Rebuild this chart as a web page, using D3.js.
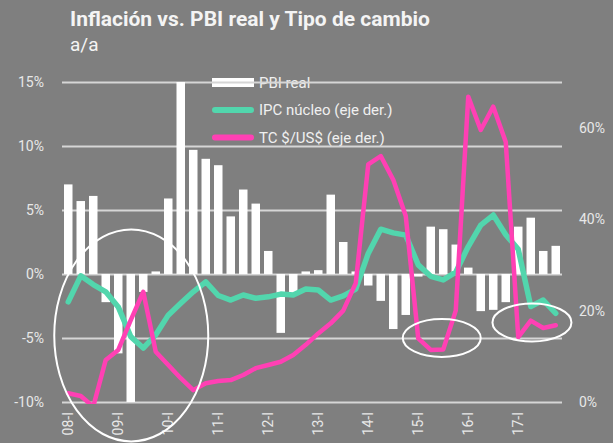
<!DOCTYPE html>
<html>
<head>
<meta charset="utf-8">
<script src="https://cdn.jsdelivr.net/npm/d3@7"></script>
<style>
  html, body { margin: 0; padding: 0; background: #7f7f7f; }
  svg { display: block; font-family: Roboto, "Noto Sans", sans-serif; }
</style>
</head>
<body>
<svg id="chart" width="613" height="443"></svg>
<script>
// ---- data ----
const quarters = [
  "08-I","08-II","08-III","08-IV","09-I","09-II","09-III","09-IV",
  "10-I","10-II","10-III","10-IV","11-I","11-II","11-III","11-IV",
  "12-I","12-II","12-III","12-IV","13-I","13-II","13-III","13-IV",
  "14-I","14-II","14-III","14-IV","15-I","15-II","15-III","15-IV",
  "16-I","16-II","16-III","16-IV","17-I","17-II","17-III","17-IV"
];
const pbiReal = [
  7.0, 5.7, 6.1, -2.2, -6.2, -10.0, -1.4, 0.2,
  5.9, 15.0, 9.7, 9.0, 8.5, 4.5, 6.6, 5.5,
  1.8, -4.6, -1.5, 0.2, 0.3, 6.2, 2.5, 0.2,
  -0.9, -2.1, -4.3, -3.2, -0.2, 3.7, 3.5, 2.3,
  0.5, -2.9, -2.8, -2.2, 3.7, 4.4, 1.8, 2.2
];
const ipcNucleo = [
  21.9, 27.6, 25.7, 24.1, 20.8, 14.3, 11.8, 14.7,
  19.0, 21.6, 24.1, 26.3, 23.3, 22.3, 23.4, 22.7,
  23.0, 23.6, 23.4, 24.7, 24.5, 22.3, 23.2, 24.7,
  32.5, 37.8, 37.0, 36.5, 30.0, 27.5, 26.7, 28.4,
  34.0, 38.7, 40.9, 36.6, 33.4, 20.9, 22.3, 19.4
];
const tcUsd = [
  1.9, 1.3, -1.0, 9.2, 11.4, 17.9, 24.1, 11.0,
  8.1, 5.2, 2.6, 4.1, 4.6, 4.8, 5.9, 7.4,
  8.1, 8.8, 10.3, 12.5, 15.0, 17.2, 20.0, 26.0,
  52.0, 53.8, 48.6, 40.7, 13.9, 11.4, 11.5, 20.0,
  66.8, 59.5, 64.6, 56.9, 14.2, 17.8, 16.2, 16.8
];
const leftTicks = [-10, -5, 0, 5, 10, 15];
const rightTicks = [0, 20, 40, 60];
const xTickLabels = ["08-I","09-I","10-I","11-I","12-I","13-I","14-I","15-I","16-I","17-I"];
const legendLabels = ["PBI real", "IPC núcleo (eje der.)", "TC $/US$ (eje der.)"];
const titleText = "Inflación vs. PBI real y Tipo de cambio";
const subtitleText = "a/a";

// ---- layout ----
const svg = d3.select("#chart");
const L = 62, R = 562, T = 82, B = 402;
const GREEN = "#52d6ad", PINK = "#ff40b4", GRID = "#d6d6d6", TXT = "#e8e8e8";

svg.append("rect").attr("width", 613).attr("height", 443).attr("fill", "#7f7f7f");

const x = d3.scaleBand().domain(quarters).range([L, R]).paddingInner(0.32).paddingOuter(0.16);
const yL = d3.scaleLinear().domain([-10, 15]).range([B, T]);
const yR = d3.scaleLinear().domain([0, 70]).range([B, T]);
const cx = q => x(q) + x.bandwidth() / 2;

// title
svg.append("text").attr("x", 70).attr("y", 26).attr("fill", "#f4f4f4")
  .style("font-size", "21px").style("font-weight", "bold").text(titleText);
svg.append("text").attr("x", 70).attr("y", 51).attr("fill", "#f4f4f4")
  .style("font-size", "19px").text(subtitleText);

// legend (under gridlines)
const lg = svg.append("g");
const legY = [82.5, 110, 137.5];
lg.append("rect").attr("x", 212).attr("y", 78).attr("width", 42).attr("height", 9).attr("fill", "#fff");
[[GREEN, 1], [PINK, 2]].forEach(([c, i]) => {
  lg.append("line").attr("x1", 215).attr("x2", 251).attr("y1", legY[i]).attr("y2", legY[i])
    .attr("stroke", c).attr("stroke-width", 6).attr("stroke-linecap", "round");
});
legendLabels.forEach((t, i) => {
  lg.append("text").attr("x", 259).attr("y", legY[i]).attr("dy", "0.35em")
    .attr("fill", "#f0f0f0").style("font-size", "15px").text(t);
});

// left axis with gridlines
const gL = svg.append("g").attr("transform", `translate(${L},0)`)
  .call(d3.axisLeft(yL).tickValues(leftTicks).tickSize(-(R - L)).tickPadding(18)
    .tickFormat(d => d + "%"));
gL.select(".domain").remove();
gL.selectAll(".tick line").attr("stroke", GRID).attr("stroke-width", 1.8);
gL.selectAll(".tick text").attr("fill", TXT).style("font-size", "14px")
  .style("font-family", "Roboto, 'Noto Sans', sans-serif");

// right axis
const gR = svg.append("g").attr("transform", `translate(${R},0)`)
  .call(d3.axisRight(yR).tickValues(rightTicks).tickSize(0).tickPadding(17)
    .tickFormat(d => d + "%"));
gR.select(".domain").remove();
gR.selectAll(".tick text").attr("fill", TXT).style("font-size", "14px")
  .style("font-family", "Roboto, 'Noto Sans', sans-serif");

// x axis
const gX = svg.append("g").attr("transform", `translate(0,${B})`)
  .call(d3.axisBottom(x).tickValues(xTickLabels).tickSize(0));
gX.select(".domain").remove();
gX.selectAll(".tick text")
  .attr("fill", TXT).style("font-size", "14px")
  .style("font-family", "Roboto, 'Noto Sans', sans-serif")
  .attr("transform", "rotate(-90)")
  .attr("y", 0).attr("x", -10).attr("dy", "0.35em")
  .style("text-anchor", "end");

// clip
svg.append("clipPath").attr("id", "plot").append("rect")
  .attr("x", 0).attr("y", T - 10).attr("width", 613).attr("height", B - T + 12);

// bars
svg.append("g").selectAll("rect").data(quarters).join("rect")
  .attr("x", d => x(d)).attr("width", x.bandwidth())
  .attr("y", (d, i) => yL(Math.max(0, pbiReal[i])))
  .attr("height", (d, i) => Math.abs(yL(pbiReal[i]) - yL(0)))
  .attr("fill", "#ffffff");

// lines
const lineGen = arr => d3.line().x((d, i) => cx(quarters[i])).y(d => yR(d))(arr);
const lines = svg.append("g").attr("clip-path", "url(#plot)");
lines.append("path").attr("d", lineGen(ipcNucleo)).attr("fill", "none")
  .attr("stroke", GREEN).attr("stroke-width", 5.5).attr("stroke-linejoin", "round").attr("stroke-linecap", "round");
lines.append("path").attr("d", lineGen(tcUsd)).attr("fill", "none")
  .attr("stroke", PINK).attr("stroke-width", 4.5).attr("stroke-linejoin", "round").attr("stroke-linecap", "round");

// annotation ellipses
const ann = svg.append("g").attr("fill", "none").attr("stroke", "#fff").attr("stroke-width", 2);
ann.append("ellipse").attr("cx", cx("09-II") + 0.5).attr("cy", yL(-4.8)).attr("rx", 77).attr("ry", 106);
ann.append("ellipse").attr("cx", cx("15-III") - 1.5).attr("cy", yR(14)).attr("rx", 39).attr("ry", 19);
ann.append("ellipse").attr("cx", cx("17-II") + 1.2).attr("cy", yR(17.4)).attr("rx", 39.5).attr("ry", 19);
</script>
</body>
</html>
